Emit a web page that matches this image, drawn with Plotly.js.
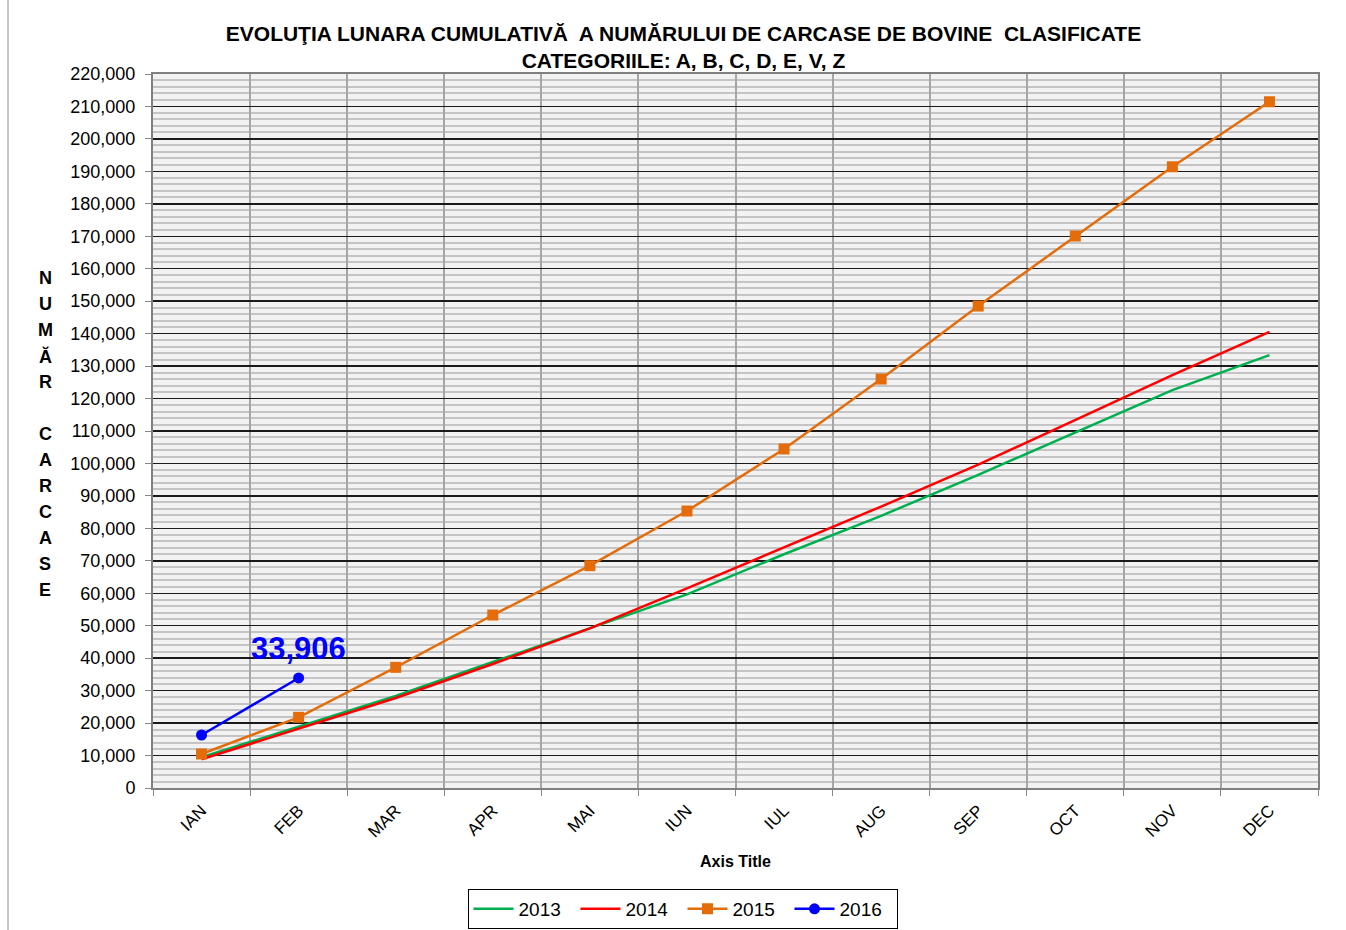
<!DOCTYPE html>
<html>
<head>
<meta charset="utf-8">
<script src="https://cdn.plot.ly/plotly-3.0.1.min.js"></script>
<style>html,body{margin:0;padding:0;background:#fff;}#chart{width:1346px;height:930px;}</style>
</head>
<body>
<div id="chart"></div>
<script>
const months = ['IAN','FEB','MAR','APR','MAI','IUN','IUL','AUG','SEP','OCT','NOV','DEC'];
const y2013 = [9460, 18890, 28350, 38820, 49200, 59680, 72030, 83860, 96500, 109680, 122620, 133400];
const y2014 = [8840, 18270, 27730, 38200, 49200, 61530, 74100, 86720, 99620, 113500, 127190, 140550];
const y2015 = [10475, 21780, 37180, 53300, 68500, 85340, 104450, 126000, 148500, 170070, 191420, 211450];
const y2016 = [16330, 33906];
const seriesNames = ['2013', '2014', '2015', '2016'];
const titleText = 'EVOLUŢIA LUNARA CUMULATIVĂ  A NUMĂRULUI DE CARCASE DE BOVINE  CLASIFICATE<br>CATEGORIILE: A, B, C, D, E, V, Z';
const yTitleLetters = ['N','U','M','Ă','R','','C','A','R','C','A','S','E'];
const xTitleText = 'Axis Title';

const L = 153, R = 1318, T = 74, B = 788;
const px2py = p => (B - p) / (B - T);
const px2px = p => (p - L) / (R - L);

const traces = [
  {x: months, y: y2013, name: seriesNames[0], type: 'scatter', mode: 'lines',
   line: {color: '#00b050', width: 2.5}},
  {x: months, y: y2014, name: seriesNames[1], type: 'scatter', mode: 'lines',
   line: {color: '#ff0000', width: 2.5}},
  {x: months, y: y2015, name: seriesNames[2], type: 'scatter', mode: 'lines+markers',
   line: {color: '#e46c0a', width: 2.5}, marker: {symbol: 'square', size: 11, color: '#e46c0a'}},
  {x: months.slice(0, y2016.length), y: y2016, name: seriesNames[3], type: 'scatter', mode: 'lines+markers',
   line: {color: '#0000ff', width: 2.5}, marker: {symbol: 'circle', size: 11, color: '#0000ff'}}
];

const annotations = [];
yTitleLetters.forEach((ch, i) => {
  if (!ch) return;
  annotations.push({text: ch, xref: 'paper', yref: 'paper', x: px2px(45), y: px2py(278 + i * 26),
    xanchor: 'center', yanchor: 'middle', showarrow: false,
    font: {family: 'Liberation Sans, Arial, sans-serif', size: 18, color: '#000', weight: 'bold'}});
});
annotations.push({text: '<b>' + xTitleText + '</b>', xref: 'paper', yref: 'paper', x: 0.5, y: px2py(861),
  xanchor: 'center', yanchor: 'middle', showarrow: false,
  font: {family: 'Liberation Sans, Arial, sans-serif', size: 16, color: '#000'}});
const lastIdx = y2016.length - 1;
annotations.push({text: '<b>' + y2016[lastIdx].toLocaleString('en-US') + '</b>', xref: 'x', yref: 'y',
  x: months[lastIdx], y: y2016[lastIdx], xanchor: 'center', yanchor: 'bottom', yshift: 10, showarrow: false,
  font: {family: 'Liberation Sans, Arial, sans-serif', size: 31, color: '#0000ff'}});

const layout = {
  width: 1346, height: 930,
  margin: {l: L, r: 1346 - R, t: T, b: 930 - B, pad: 0, autoexpand: false},
  paper_bgcolor: '#ffffff',
  plot_bgcolor: '#f2f2f2',
  font: {family: 'Liberation Sans, Arial, sans-serif', color: '#000'},
  title: {text: '<b>' + titleText + '</b>', x: 683.5 / 1346, xref: 'container', xanchor: 'center',
    y: 1 - 41 / 930, yref: 'container', yanchor: 'middle',
    font: {family: 'Liberation Sans, Arial, sans-serif', size: 21, color: '#000'}},
  xaxis: {
    type: 'category', range: [-0.5, 11.5], tickson: 'boundaries',
    tickangle: -45, tickfont: {size: 17, color: '#000'}, ticklabelstandoff: 4,
    ticks: 'outside', ticklen: 6, tickcolor: '#888', tickwidth: 1,
    showgrid: true, gridcolor: '#a6a6a6', gridwidth: 2,
    showline: true, linecolor: '#808080', linewidth: 2, mirror: true,
    zeroline: false, fixedrange: true
  },
  yaxis: {
    range: [0, 220000], dtick: 10000, tick0: 0, tickformat: ',d',
    tickfont: {size: 18, color: '#000'}, ticklabelstandoff: 6,
    ticks: 'outside', ticklen: 6, tickcolor: '#888', tickwidth: 1,
    showgrid: true, gridcolor: '#1a1a1a', gridwidth: 1.5,
    minor: {dtick: 2000, showgrid: true, gridcolor: '#c4c4c4', gridwidth: 2, ticks: ''},
    showline: true, linecolor: '#808080', linewidth: 2, mirror: true,
    zeroline: false, fixedrange: true
  },
  legend: {orientation: 'h', x: px2px(682.5), xanchor: 'center', y: px2py(889), yanchor: 'top',
    bordercolor: '#000', borderwidth: 1, bgcolor: '#fff',
    font: {size: 19, color: '#000'}, itemwidth: 40, traceorder: 'normal',
    entrywidth: 52, entrywidthmode: 'pixels'},
  annotations: annotations,
  shapes: [
    {type: 'line', xref: 'paper', yref: 'paper', x0: px2px(8), x1: px2px(8), y0: px2py(0), y1: px2py(930),
     line: {color: '#8c8c8c', width: 1}}
  ],
  showlegend: true
};

Plotly.newPlot('chart', traces, layout, {displayModeBar: false, staticPlot: true});
</script>
</body>
</html>
